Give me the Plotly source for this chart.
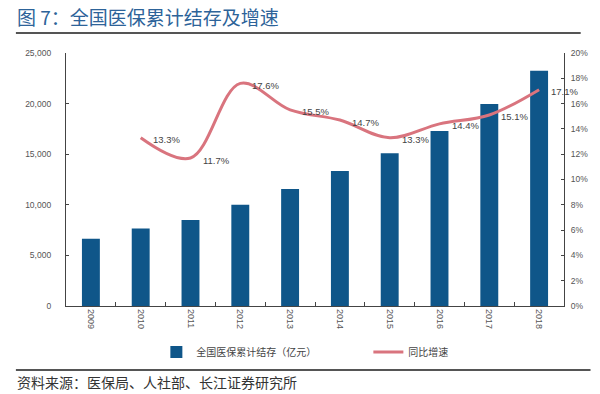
import plotly.graph_objects as go

years = ["2009", "2010", "2011", "2012", "2013", "2014", "2015", "2016", "2017", "2018"]
balance = [6650, 7650, 8500, 10000, 11550, 13350, 15100, 17300, 19950, 23250]
growth_years = ["2010", "2011", "2012", "2013", "2014", "2015", "2016", "2017", "2018"]
growth = [13.3, 11.7, 17.6, 15.5, 14.7, 13.3, 14.4, 15.1, 17.1]
growth_labels = [f"{v:.1f}%" for v in growth]
left_ticks = [0, 5000, 10000, 15000, 20000, 25000]
right_ticks = [0, 2, 4, 6, 8, 10, 12, 14, 16, 18, 20]

W, H = 600, 394
L, R, T, B = 66, 27, 53, 88
PW, PH = W - L - R, H - T - B


def px_x(x):
    return (x - L) / PW


def px_y(y):
    return (H - B - y) / PH


fig = go.Figure()
fig.add_trace(go.Bar(
    x=years, y=balance, name="全国医保累计结存（亿元）",
    marker=dict(color="#0f5689", line=dict(width=0)), width=0.36,
))
fig.add_trace(go.Scatter(
    x=growth_years, y=growth, name="同比增速", yaxis="y2",
    mode="lines", line=dict(color="#d9747e", width=3, shape="spline", smoothing=1.0),
))
for yr, v, lab in zip(growth_years, growth, growth_labels):
    fig.add_annotation(
        x=years.index(yr), y=v, xref="x", yref="y2", text=lab, showarrow=False,
        xanchor="left", yanchor="middle", xshift=10, yshift=-2,
        font=dict(size=9.5, color="#444", family="Arial"),
    )

axis_col = "#444"
fig.update_layout(
    width=W, height=H,
    margin=dict(l=L, r=R, t=T, b=B),
    paper_bgcolor="white", plot_bgcolor="white",
    font=dict(family="Noto Sans CJK SC, Arial", color="#555"),
    xaxis=dict(
        type="category", range=[-0.5, 9.5], showline=True, linecolor=axis_col, linewidth=1.3,
        ticks="inside", tickson="boundaries", ticklen=4, tickcolor=axis_col,
        tickangle=90, tickfont=dict(size=9, family="Arial", color="#555"), showgrid=False,
    ),
    yaxis=dict(
        range=[0, 25000], tickvals=left_ticks, tickformat=",", showline=True, linecolor=axis_col,
        linewidth=1.3, ticks="inside", ticklen=3, tickcolor=axis_col, showgrid=False, zeroline=False,
        tickfont=dict(size=8.5, family="Arial", color="#555"), ticklabelstandoff=12,
    ),
    yaxis2=dict(
        overlaying="y", side="right", range=[0, 20], tickvals=right_ticks,
        ticktext=[f"{v}%" for v in right_ticks], showline=True, linecolor=axis_col,
        linewidth=1.3, ticks="inside", ticklen=3, tickcolor=axis_col, showgrid=False, zeroline=False,
        tickfont=dict(size=8.5, family="Arial", color="#555"), ticklabelstandoff=4,
    ),
    legend=dict(
        orientation="h", x=px_x(158), y=px_y(352), xanchor="left", yanchor="middle",
        font=dict(size=10, color="#444"), itemwidth=30, entrywidth=167,
        bgcolor="rgba(0,0,0,0)", tracegroupgap=0,
    ),
    showlegend=True,
)

fig.add_annotation(
    xref="paper", yref="paper", x=px_x(14), y=px_y(17),
    xanchor="left", yanchor="middle", showarrow=False,
    text="图 7：全国医保累计结存及增速",
    font=dict(size=19, color="#2d6399", family="Noto Sans CJK SC"),
)
fig.add_shape(type="line", xref="paper", yref="paper",
              x0=px_x(15), x1=px_x(590), y0=px_y(33), y1=px_y(33),
              line=dict(color="#555", width=2))
fig.add_shape(type="line", xref="paper", yref="paper",
              x0=px_x(15), x1=px_x(600), y0=px_y(370), y1=px_y(370),
              line=dict(color="#555", width=2))
fig.add_annotation(
    xref="paper", yref="paper", x=px_x(14), y=px_y(382),
    xanchor="left", yanchor="middle", showarrow=False,
    text="资料来源：医保局、人社部、长江证券研究所",
    font=dict(size=14, color="#333", family="Noto Sans CJK SC"),
)

fig.write_html("out.html", config={"displayModeBar": False},
               post_script="document.body.style.margin='0';document.body.style.overflow='hidden';")
